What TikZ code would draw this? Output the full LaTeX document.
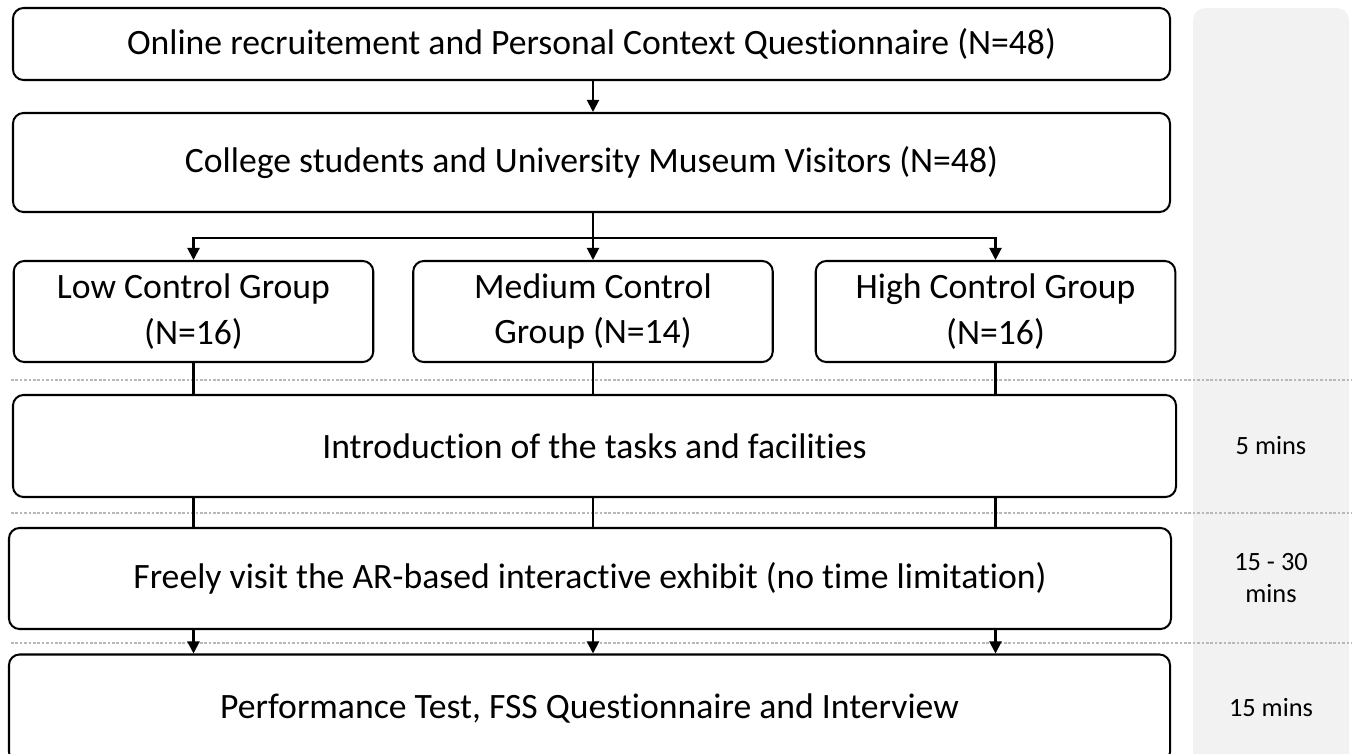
\documentclass[tikz,border=0pt]{standalone}
\usepackage{fontspec}
\setmainfont[Ligatures=NoCommon]{Carlito}
\usetikzlibrary{arrows.meta}

\begin{document}
\begin{tikzpicture}[
        > = {Triangle[width=0.24cm,length=0.24cm]},
     line width = 1.15pt,
  stage/.style = {draw, rounded corners=6pt, align=center,
                  font=\fontsize{20.3}{25.8}\selectfont,
                  inner sep=0pt},
  group/.style = {stage, minimum width=7.19cm, minimum height=2.02cm},
 phase/.style = {draw=black!28, line width=0.6pt,
                  dash pattern=on 1.5pt off 1pt},
  time/.style = {align=center, font=\fontsize{15}{18.2}\selectfont}
                        ]
\useasboundingbox (0,0) rectangle (27.04,15.06);
% time column
\fill[black!5, rounded corners=7pt] (23.86,-0.4) rectangle (26.98,14.9);
\draw[phase] (0.22,7.46) -- (27.04,7.46);
\draw[phase] (0.22,4.80) -- (27.04,4.80);
\draw[phase] (0.22,2.20) -- (27.04,2.20);
% stages
\node[stage, minimum width=23.14cm, minimum height=1.44cm] (recruit) at (11.83,14.18)
    {Online recruitement and Personal Context Questionnaire (N=48)};
\node[stage, minimum width=23.14cm, minimum height=1.98cm] (visitors) at (11.83,11.81)
    {College students and University Museum Visitors (N=48)};
\node[group] (low)  at (3.87,8.83)  {Low Control Group\\(N=16)};
\node[group] (med)  at (11.86,8.83) {Medium Control\\Group (N=14)};
\node[group] (high) at (19.91,8.83) {High Control Group\\(N=16)};
\node[stage, minimum width=23.26cm, minimum height=2.04cm] (intro) at (11.89,6.14)
    {Introduction of the tasks and facilities};
\node[stage, minimum width=23.24cm, minimum height=2.02cm] (visit) at (11.80,3.49)
    {Freely visit the AR-based interactive exhibit (no time limitation)};
\node[stage, minimum width=23.22cm, minimum height=2.16cm] (test) at (11.79,0.89)
    {Performance Test, FSS Questionnaire and Interview};
% durations
\node[time] (t1) at (25.42,6.14) {5 mins};
\node[time] (t2) at (25.42,3.50) {15 - 30\\mins};
\node[time] (t3) at (25.42,0.90) {15 mins};
% connectors
\draw[->] (recruit.south -| med.north) -- (visitors.north -| med.north);
\draw[->] (visitors.south -| med.north) -- (med.north);
\draw[->] (visitors.south -| med.north) ++(0,-0.5) coordinate (split) -| (low.north);
\draw[->] (split) -| (high.north);
\foreach \g in {low, med, high} {
    \draw (\g.south) -- (\g.south |- intro.north);
    \draw (\g.south |- intro.south) -- (\g.south |- visit.north);
    \draw[->] (\g.south |- visit.south) -- (\g.south |- test.north);
}
\end{tikzpicture}
\end{document}
